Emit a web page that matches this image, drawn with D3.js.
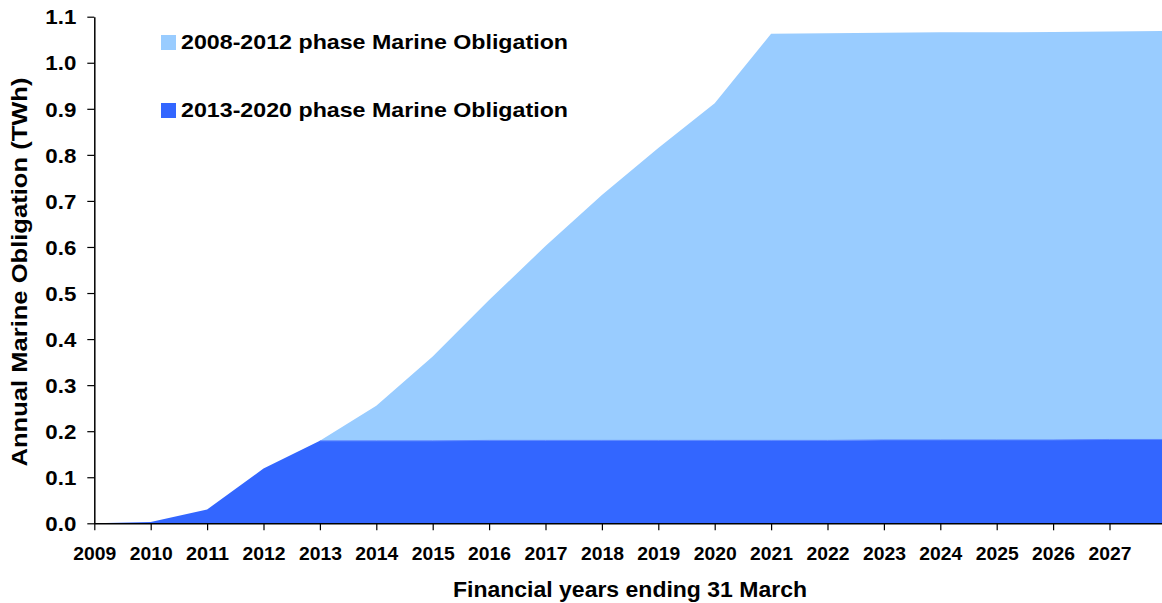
<!DOCTYPE html>
<html>
<head>
<meta charset="utf-8">
<script src="https://cdn.jsdelivr.net/npm/d3@7"></script>
<style>
  html, body { margin: 0; padding: 0; background: #fff; }
  svg { display: block; font-family: "Liberation Sans", Arial, sans-serif; font-weight: bold; }
</style>
</head>
<body>
<svg id="chart" width="1162" height="603"></svg>
<script>
// Financial years (ending 31 March)
const years = [2009, 2010, 2011, 2012, 2013, 2014, 2015, 2016, 2017, 2018, 2019,
               2020, 2021, 2022, 2023, 2024, 2025, 2026, 2027, 2028];
// 2013-2020 phase obligation (TWh)
const phase2013 = [0.000, 0.003, 0.030, 0.119, 0.179, 0.179, 0.179, 0.180, 0.180, 0.180, 0.180,
                   0.180, 0.180, 0.180, 0.181, 0.181, 0.181, 0.181, 0.182, 0.182];
// Total obligation (both phases stacked), TWh
const totalObligation = [0.000, 0.003, 0.030, 0.119, 0.179, 0.255, 0.362, 0.485, 0.602, 0.713, 0.815,
                         0.912, 1.063, 1.064, 1.065, 1.066, 1.066, 1.067, 1.068, 1.069];
// 2008-2012 phase obligation sits on top of the 2013-2020 phase
const phase2008 = totalObligation.map((t, i) => +(t - phase2013[i]).toFixed(3));

const xTicks = d3.range(2009, 2028);
const yTicks = [0, 0.1, 0.2, 0.3, 0.4, 0.5, 0.6, 0.7, 0.8, 0.9, 1.0, 1.1];

const seriesNames = ["2013-2020 phase Marine Obligation", "2008-2012 phase Marine Obligation"];
const seriesColors = {"2013-2020 phase Marine Obligation": "#3366FF",
                      "2008-2012 phase Marine Obligation": "#99CCFF"};

const rows = years.map((yr, i) => ({
  year: yr,
  "2013-2020 phase Marine Obligation": phase2013[i],
  "2008-2012 phase Marine Obligation": phase2008[i]
}));

const svg = d3.select("#chart");
const plotLeft = 94.3, yearStep = 56.4, plotBottom = 523.3, plotTop = 16.7;

const x = d3.scaleLinear().domain([2009, 2028]).range([plotLeft, plotLeft + 19 * yearStep]);
const y = d3.scaleLinear().domain([0, 1.1]).range([plotBottom, plotTop]);

const stacked = d3.stack().keys(seriesNames)(rows);

const area = d3.area()
  .x(d => x(d.data.year))
  .y0(d => y(d[0]))
  .y1(d => y(d[1]));

svg.append("g")
  .selectAll("path")
  .data(stacked.slice().reverse())
  .join("path")
  .attr("d", area)
  .attr("fill", d => seriesColors[d.key]);

// thin edge on top of the lower series
svg.append("path")
  .datum(stacked[0].slice(4))
  .attr("d", d3.line().x(d => x(d.data.year)).y(d => y(d[1])))
  .attr("fill", "none")
  .attr("stroke", "#5a86ff")
  .attr("stroke-width", 1);

const font = "'Liberation Sans', Arial, sans-serif";

// X axis
const xAxis = svg.append("g")
  .attr("transform", `translate(0,${plotBottom})`)
  .call(d3.axisBottom(x).tickValues(xTicks).tickFormat(d3.format("d")).tickSize(7).tickSizeOuter(0));
xAxis.select(".domain").attr("d", `M${plotLeft},0.5H1162`).attr("stroke", "#000").attr("stroke-width", 1.5);
xAxis.selectAll(".tick line").attr("stroke", "#000").attr("stroke-width", 1.2);
xAxis.selectAll(".tick text")
  .attr("y", 37).attr("dy", 0)
  .attr("fill", "#000")
  .attr("textLength", 43).attr("lengthAdjust", "spacingAndGlyphs")
  .style("font-size", "19px").style("font-weight", "bold")
  .style("font-family", font);

// Y axis
const yAxis = svg.append("g")
  .attr("transform", `translate(${plotLeft},0)`)
  .call(d3.axisLeft(y).tickValues(yTicks).tickFormat(d3.format(".1f")).tickSize(7).tickSizeOuter(0).tickPadding(11));
yAxis.select(".domain").attr("stroke", "#000").attr("stroke-width", 1.5);
yAxis.selectAll(".tick line").attr("stroke", "#000").attr("stroke-width", 1.2);
yAxis.selectAll(".tick text")
  .attr("dy", "0.36em")
  .attr("fill", "#000")
  .attr("textLength", 31).attr("lengthAdjust", "spacingAndGlyphs")
  .style("font-size", "20px").style("font-weight", "bold")
  .style("font-family", font);

// Axis titles
svg.append("text")
  .attr("x", 630).attr("y", 597)
  .attr("text-anchor", "middle")
  .attr("textLength", 354).attr("lengthAdjust", "spacingAndGlyphs")
  .style("font-size", "22px")
  .text("Financial years ending 31 March");

svg.append("text")
  .attr("transform", "translate(27,272) rotate(-90)")
  .attr("text-anchor", "middle")
  .attr("textLength", 389).attr("lengthAdjust", "spacingAndGlyphs")
  .style("font-size", "22px")
  .text("Annual Marine Obligation (TWh)");

// Legend
const legendItems = [
  {name: "2008-2012 phase Marine Obligation", y: 42},
  {name: "2013-2020 phase Marine Obligation", y: 110}
];
const lg = svg.append("g").selectAll("g").data(legendItems).join("g")
  .attr("transform", d => `translate(161,${d.y})`);
lg.append("rect")
  .attr("x", 0).attr("y", -7).attr("width", 15).attr("height", 15)
  .attr("fill", d => seriesColors[d.name]);
lg.append("text")
  .attr("x", 20).attr("y", 0).attr("dy", "0.36em")
  .attr("textLength", 387).attr("lengthAdjust", "spacingAndGlyphs")
  .style("font-size", "20.5px")
  .text(d => d.name);
</script>
</body>
</html>
